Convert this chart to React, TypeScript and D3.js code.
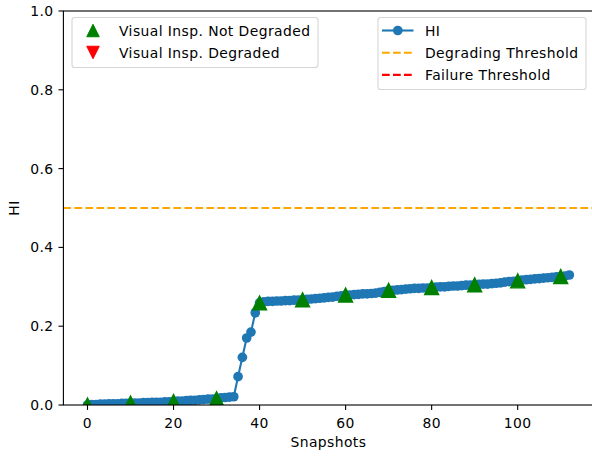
import React, { useEffect, useRef } from 'react';
import * as d3 from 'd3';

// HI per snapshot (index = snapshot number 0..112)
const hiValues = [
  0.000, 0.001, 0.001, 0.002, 0.002, 0.003, 0.003, 0.003, 0.004, 0.004,
  0.005, 0.005, 0.005, 0.006, 0.006, 0.007, 0.007, 0.007, 0.008, 0.008,
  0.009, 0.010, 0.010, 0.011, 0.012, 0.012, 0.013, 0.014, 0.015, 0.015,
  0.016, 0.018, 0.019, 0.020, 0.021, 0.072, 0.121, 0.170, 0.185, 0.234,
  0.259, 0.262, 0.263, 0.263, 0.264, 0.264, 0.265, 0.265, 0.266, 0.266,
  0.267, 0.268, 0.269, 0.270, 0.271, 0.272, 0.273, 0.274, 0.276, 0.277,
  0.279, 0.279, 0.280, 0.281, 0.282, 0.282, 0.283, 0.284, 0.286, 0.288,
  0.291, 0.291, 0.292, 0.293, 0.294, 0.295, 0.296, 0.296, 0.297, 0.297,
  0.298, 0.299, 0.300, 0.300, 0.301, 0.302, 0.302, 0.303, 0.304, 0.304,
  0.305, 0.306, 0.307, 0.307, 0.308, 0.309, 0.310, 0.312, 0.313, 0.314,
  0.315, 0.317, 0.318, 0.319, 0.320, 0.321, 0.322, 0.323, 0.324, 0.325,
  0.326, 0.327, 0.330,
];

// visual inspections (all "not degraded")
const inspSnapshots = [0, 10, 20, 30, 40, 50, 60, 70, 80, 90, 100, 110];
const inspValues = [0.000, 0.005, 0.009, 0.016, 0.259, 0.267, 0.279, 0.291, 0.298, 0.305, 0.315, 0.326];

const degradingThreshold = 0.5;
const failureThreshold = 1.2;

const xTicks = [0, 20, 40, 60, 80, 100];
const yTicks = [0.0, 0.2, 0.4, 0.6, 0.8, 1.0];

const FONT = 'DejaVu Sans, sans-serif';
const FS = 13.9;
const LS = 0.42; // matplotlib's hinted text runs a little wider

const App = () => {
  const svgRef = useRef<SVGSVGElement>(null);

  useEffect(() => {
    const W = 592, H = 458;
    const margin = { top: 11, left: 63.4, right: -1.4, bottom: 53 };
    const width = W - margin.left - margin.right;
    const height = H - margin.top - margin.bottom;

    const root = d3.select(svgRef.current);
    root.selectAll('*').remove();
    root.attr('width', W).attr('height', H);

    const svg = root.append('g').attr('transform', `translate(${margin.left},${margin.top})`);

    svg.append('defs').append('clipPath').attr('id', 'plot-clip')
      .append('rect').attr('width', width).attr('height', height);

    const x = d3.scaleLinear().domain([-5.6, 117.6]).range([0, width]);
    const y = d3.scaleLinear().domain([0, 1]).range([height, 0]);

    const plot = svg.append('g').attr('clip-path', 'url(#plot-clip)');

    // HI line
    const line = d3.line<number>().x((_, i) => x(i)).y((d) => y(d));
    plot.append('path')
      .datum(hiValues)
      .attr('d', line)
      .attr('fill', 'none')
      .attr('stroke', '#1f77b4')
      .attr('stroke-width', 2.1);

    plot.selectAll('.hi-dot')
      .data(hiValues)
      .enter()
      .append('circle')
      .attr('class', 'hi-dot')
      .attr('cx', (_, i) => x(i))
      .attr('cy', (d) => y(d))
      .attr('r', 4.85)
      .attr('fill', '#1f77b4');

    // thresholds
    plot.append('line')
      .attr('x1', 0).attr('x2', width)
      .attr('y1', y(degradingThreshold)).attr('y2', y(degradingThreshold))
      .attr('stroke', 'orange').attr('stroke-width', 2.1)
      .attr('stroke-dasharray', '7.7,3.3');
    plot.append('line')
      .attr('x1', 0).attr('x2', width)
      .attr('y1', y(failureThreshold)).attr('y2', y(failureThreshold))
      .attr('stroke', 'red').attr('stroke-width', 2.1)
      .attr('stroke-dasharray', '7.7,3.3');

    // inspection markers (matplotlib-style '^' / 'v')
    const triPath = (s: number, up: boolean) =>
      up
        ? `M0,${-s / 2}L${-s / 2},${s / 2}L${s / 2},${s / 2}Z`
        : `M0,${s / 2}L${-s / 2},${-s / 2}L${s / 2},${-s / 2}Z`;

    plot.selectAll('.insp')
      .data(inspSnapshots)
      .enter()
      .append('path')
      .attr('class', 'insp')
      .attr('transform', (d, i) => `translate(${x(d)},${y(inspValues[i])})`)
      .attr('d', triPath(13.9, true))
      .attr('fill', 'green')
      .attr('stroke', 'green')
      .attr('stroke-width', 1.4);

    // axes
    const xAxis = svg.append('g').attr('transform', `translate(0,${height})`);
    xAxis.selectAll('line')
      .data(xTicks).enter().append('line')
      .attr('x1', (d) => x(d)).attr('x2', (d) => x(d))
      .attr('y1', 0).attr('y2', 4.9)
      .attr('stroke', 'black').attr('stroke-width', 1.1);
    xAxis.selectAll('text')
      .data(xTicks).enter().append('text')
      .attr('x', (d) => x(d)).attr('y', 23)
      .attr('text-anchor', 'middle')
      .attr('font-family', FONT).attr('font-size', FS).attr('letter-spacing', LS)
      .text((d) => d3.format('d')(d));

    const yAxis = svg.append('g');
    yAxis.selectAll('line')
      .data(yTicks).enter().append('line')
      .attr('x1', -4.9).attr('x2', 0)
      .attr('y1', (d) => y(d)).attr('y2', (d) => y(d))
      .attr('stroke', 'black').attr('stroke-width', 1.1);
    yAxis.selectAll('text')
      .data(yTicks).enter().append('text')
      .attr('x', -9.8).attr('y', (d) => y(d))
      .attr('dy', '0.36em')
      .attr('text-anchor', 'end')
      .attr('font-family', FONT).attr('font-size', FS).attr('letter-spacing', LS)
      .text((d) => d3.format('.1f')(d));

    // spines
    svg.append('rect')
      .attr('width', width).attr('height', height)
      .attr('fill', 'none').attr('stroke', 'black').attr('stroke-width', 1.1);

    // axis labels
    svg.append('text')
      .attr('x', width / 2).attr('y', height + 42)
      .attr('text-anchor', 'middle')
      .attr('font-family', FONT).attr('font-size', FS).attr('letter-spacing', LS)
      .text('Snapshots');
    svg.append('text')
      .attr('transform', `translate(${-44},${height / 2}) rotate(-90)`)
      .attr('text-anchor', 'middle')
      .attr('font-family', FONT).attr('font-size', FS).attr('letter-spacing', LS)
      .text('HI');

    // legends (page coordinates)
    const leg = root.append('g');
    const frame = (x0: number, y0: number, w: number, h: number) =>
      leg.append('rect')
        .attr('x', x0).attr('y', y0).attr('width', w).attr('height', h)
        .attr('rx', 2.8)
        .attr('fill', 'white').attr('fill-opacity', 0.8)
        .attr('stroke', '#d6d6d6').attr('stroke-width', 1.1);

    // left legend: inspections
    frame(72, 17.5, 246, 50);
    const inspLegend = [
      { label: 'Visual Insp. Not Degraded', color: 'green', up: true },
      { label: 'Visual Insp. Degraded', color: 'red', up: false },
    ];
    inspLegend.forEach((d, i) => {
      const cy = 30.5 + i * 22;
      leg.append('path')
        .attr('transform', `translate(93,${cy})`)
        .attr('d', triPath(12.5, d.up))
        .attr('fill', d.color).attr('stroke', d.color).attr('stroke-width', 1);
      leg.append('text')
        .attr('x', 119).attr('y', cy).attr('dy', '0.36em')
        .attr('font-family', FONT).attr('font-size', FS).attr('letter-spacing', LS)
        .text(d.label);
    });

    // right legend: HI and thresholds
    frame(378, 17.5, 208, 72);
    const lineLegend = [
      { label: 'HI', color: '#1f77b4', dash: null, marker: true },
      { label: 'Degrading Threshold', color: 'orange', dash: '7.7,3.3', marker: false },
      { label: 'Failure Threshold', color: 'red', dash: '7.7,3.3', marker: false },
    ];
    lineLegend.forEach((d, i) => {
      const cy = 30.5 + i * 22.2;
      leg.append('line')
        .attr('x1', 382).attr('x2', 413.5)
        .attr('y1', cy).attr('y2', cy)
        .attr('stroke', d.color).attr('stroke-width', 2.1)
        .attr('stroke-dasharray', d.dash);
      if (d.marker) {
        leg.append('circle')
          .attr('cx', 397.8).attr('cy', cy).attr('r', 4.85)
          .attr('fill', d.color);
      }
      leg.append('text')
        .attr('x', 425).attr('y', cy).attr('dy', '0.36em')
        .attr('font-family', FONT).attr('font-size', FS).attr('letter-spacing', LS)
        .text(d.label);
    });
  }, []);

  return (
    <svg
      ref={svgRef}
      style={{ position: 'absolute', left: 0, top: 0, display: 'block', background: 'white' }}
    />
  );
};

export default App;
